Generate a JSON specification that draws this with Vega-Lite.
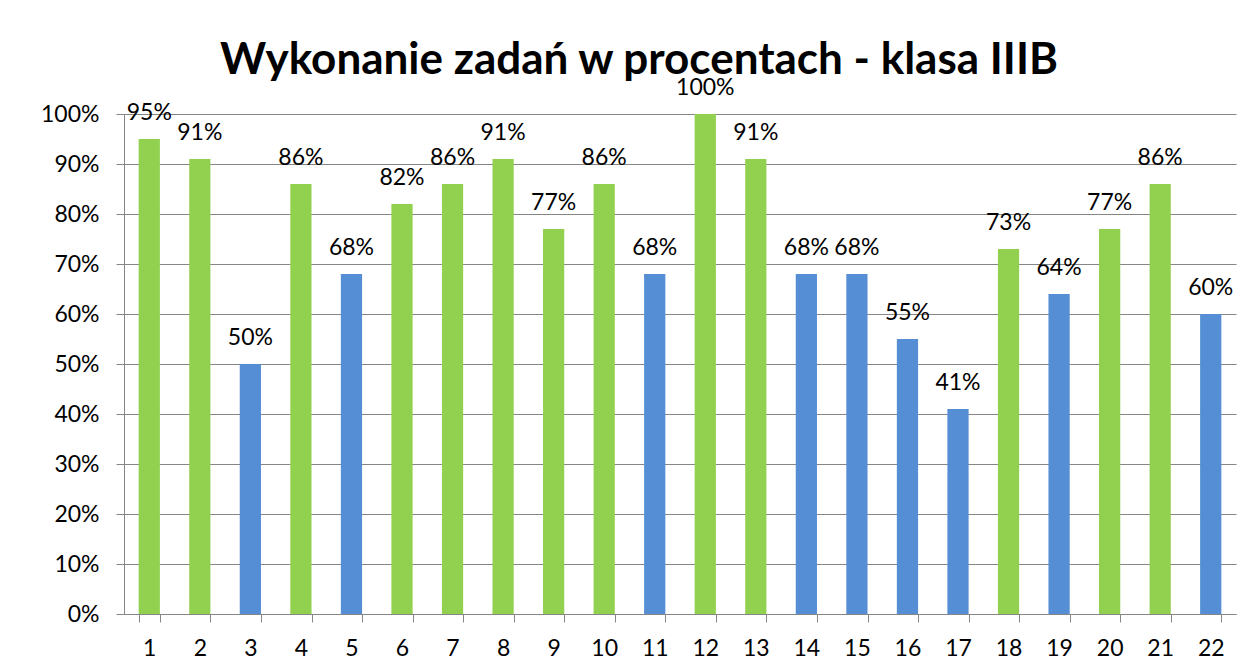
{
  "$schema": "https://vega.github.io/schema/vega-lite/v6.json",
  "width": 1112,
  "height": 500,
  "autosize": {"type": "none"},
  "padding": {"left": 124, "top": 114, "right": 22, "bottom": 58},
  "background": "white",
  "title": {
    "text": "Wykonanie zadań w procentach - klasa IIIB",
    "font": "Lato",
    "fontSize": 44,
    "fontWeight": "bold",
    "color": "#000000",
    "anchor": "middle",
    "dx": -41,
    "offset": -6
  },
  "config": {
    "view": {"stroke": null},
    "axis": {"labelFont": "Lato", "labelFontSize": 23, "labelColor": "#000000"}
  },
  "data": {
    "values": [
      {"zadanie": 1, "wynik": 0.95},
      {"zadanie": 2, "wynik": 0.91},
      {"zadanie": 3, "wynik": 0.50},
      {"zadanie": 4, "wynik": 0.86},
      {"zadanie": 5, "wynik": 0.68},
      {"zadanie": 6, "wynik": 0.82},
      {"zadanie": 7, "wynik": 0.86},
      {"zadanie": 8, "wynik": 0.91},
      {"zadanie": 9, "wynik": 0.77},
      {"zadanie": 10, "wynik": 0.86},
      {"zadanie": 11, "wynik": 0.68},
      {"zadanie": 12, "wynik": 1.00},
      {"zadanie": 13, "wynik": 0.91},
      {"zadanie": 14, "wynik": 0.68},
      {"zadanie": 15, "wynik": 0.68},
      {"zadanie": 16, "wynik": 0.55},
      {"zadanie": 17, "wynik": 0.41},
      {"zadanie": 18, "wynik": 0.73},
      {"zadanie": 19, "wynik": 0.64},
      {"zadanie": 20, "wynik": 0.77},
      {"zadanie": 21, "wynik": 0.86},
      {"zadanie": 22, "wynik": 0.60}
    ]
  },
  "encoding": {
    "x": {
      "field": "zadanie",
      "type": "ordinal",
      "scale": {"paddingInner": 0.58, "paddingOuter": 0.29},
      "axis": {
        "title": null,
        "labelAngle": 0,
        "tickBand": "extent",
        "tickSize": 8,
        "tickColor": "#868686",
        "domainColor": "#868686",
        "labelPadding": 15
      }
    },
    "y": {
      "field": "wynik",
      "type": "quantitative",
      "scale": {"domain": [0, 1]},
      "axis": {
        "title": null,
        "format": ".0%",
        "values": [0, 0.1, 0.2, 0.3, 0.4, 0.5, 0.6, 0.7, 0.8, 0.9, 1.0],
        "grid": true,
        "gridColor": "#868686",
        "gridOpacity": 1,
        "tickSize": 8,
        "tickColor": "#868686",
        "domainColor": "#868686",
        "labelPadding": 17
      }
    }
  },
  "layer": [
    {
      "mark": {"type": "bar"},
      "encoding": {
        "color": {
          "condition": {"test": "datum.wynik >= 0.7", "value": "#92D050"},
          "value": "#558ED5"
        }
      }
    },
    {
      "mark": {"type": "text", "font": "Lato", "fontSize": 23, "color": "#000000", "baseline": "alphabetic", "dy": -19},
      "encoding": {
        "text": {"field": "wynik", "type": "quantitative", "format": ".0%"}
      }
    }
  ]
}
